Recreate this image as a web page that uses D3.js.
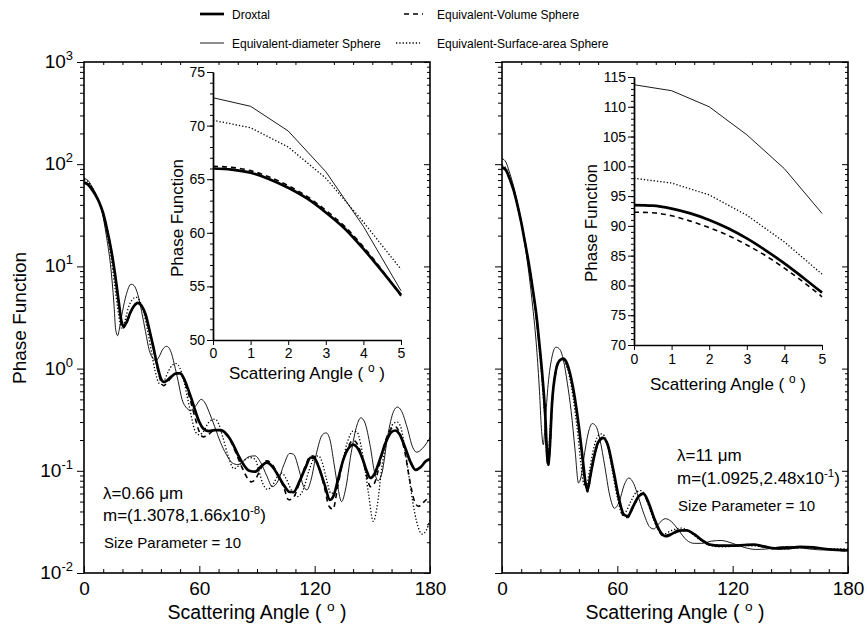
<!DOCTYPE html>
<html>
<head>
<meta charset="utf-8">
<script src="https://cdn.jsdelivr.net/npm/d3@7"></script>
<style>
body { margin: 0; background: #fff; }
text { font-family: "Liberation Sans", Arial, Helvetica, sans-serif; fill: #000; }
</style>
</head>
<body>
<svg id="chart" width="867" height="628"></svg>
<script>
// ---- data: [scattering angle (deg), phase function] ----

// left panel, lambda = 0.66 um
var droxtalL = [[0,66],[2,63.5],[4,57],[6,50],[8,42],[10,33],[12,23],[14,15],[16,8.8],[18,4.6],[19.5,2.9],[20.5,2.6],[22,2.8],[24,3.5],[26,4.1],[28,4.4],[30,4.1],[32,3.4],[34,2.4],[36,1.65],[38,1.1],[40,0.8],[41.5,0.74],[43,0.76],[45,0.82],[48,0.9],[50,0.9],[52,0.8],[54,0.64],[56,0.5],[58,0.38],[60,0.3],[62,0.26],[65,0.245],[68,0.25],[71,0.25],[74,0.23],[77,0.19],[80,0.145],[83,0.115],[86,0.1],[89,0.098],[92,0.11],[95,0.12],[98,0.11],[101,0.09],[104,0.072],[107,0.062],[109,0.062],[112,0.078],[115,0.105],[118,0.135],[120,0.132],[122,0.11],[125,0.075],[128,0.052],[130,0.058],[132,0.08],[135,0.13],[138,0.17],[140,0.18],[142,0.17],[145,0.13],[147,0.1],[149,0.085],[151,0.092],[154,0.13],[157,0.19],[160,0.24],[162,0.248],[164,0.23],[167,0.17],[170,0.12],[172.5,0.102],[175,0.108],[178,0.125],[180,0.13]];
var eqVolL = [[0,66.2],[2,63.7],[4,57.2],[6,50],[8,42],[10,33],[12,23],[14,15],[16,8.7],[18,4.5],[19.5,2.8],[20.5,2.5],[22,2.75],[24,3.5],[26,4.1],[28,4.4],[30,4.1],[32,3.4],[34,2.4],[36,1.6],[38,1.05],[40,0.75],[41.5,0.68],[43,0.72],[45,0.8],[48,0.9],[50,0.9],[52,0.78],[54,0.6],[56,0.44],[58,0.32],[60,0.24],[62,0.215],[64,0.22],[67,0.245],[70,0.25],[73,0.235],[76,0.2],[79,0.15],[82,0.11],[85,0.085],[87,0.078],[89,0.082],[92,0.105],[95,0.125],[98,0.115],[101,0.09],[104,0.068],[106.5,0.052],[109,0.055],[112,0.075],[115,0.11],[118,0.14],[120,0.138],[122,0.11],[125,0.07],[127.5,0.045],[129.5,0.042],[132,0.07],[135,0.13],[138,0.18],[140,0.2],[142,0.185],[145,0.13],[147,0.09],[149,0.07],[151,0.075],[154,0.12],[157,0.2],[160,0.26],[162,0.27],[164,0.24],[167,0.15],[169.5,0.08],[172,0.05],[174,0.045],[177,0.05],[180,0.057]];
var eqDiaL = [[0,72.6],[2,69.5],[4,61],[6,52],[8,42],[10,30],[12,18],[14,9.5],[15.5,4.5],[16.5,2.4],[17.5,2.1],[18.5,2.5],[20,3.6],[22,5.3],[24.5,6.7],[26,6.5],[28,5.3],[30,3.6],[32,2.3],[34,1.5],[36,1.25],[37.5,1.2],[39,1.3],[41,1.55],[43,1.65],[45,1.5],[47,1.1],[49,0.75],[51,0.5],[53,0.42],[55.5,0.39],[58,0.43],[61,0.5],[63,0.46],[65,0.38],[68,0.27],[71,0.19],[74,0.145],[77,0.12],[80,0.115],[83,0.125],[86,0.138],[89,0.14],[92,0.12],[95,0.09],[98,0.07],[101,0.08],[104,0.115],[107,0.148],[109,0.145],[112,0.1],[114,0.072],[116,0.065],[118,0.08],[121,0.15],[124,0.225],[126,0.235],[128,0.2],[130,0.12],[132,0.07],[134,0.05],[136,0.065],[139,0.15],[142,0.28],[144,0.33],[146,0.3],[149,0.17],[151,0.1],[153,0.08],[155,0.095],[158,0.22],[161,0.38],[163,0.42],[165,0.39],[168,0.27],[171,0.17],[173,0.152],[176,0.165],[180,0.21]];
var eqSurfL = [[0,70.5],[2,68],[4,60],[6,51],[8,42],[10,32],[12,21],[14,12.5],[16,6.5],[18,3.4],[19.5,2.5],[21,2.8],[23,3.9],[25,4.7],[27,5.0],[29,4.6],[31,3.6],[33,2.4],[35,1.5],[37,0.95],[39,0.72],[40.5,0.7],[42,0.78],[44,0.95],[46,1.08],[48,1.12],[50,1.0],[52,0.75],[54,0.5],[56,0.33],[58,0.24],[60,0.225],[62,0.24],[65,0.3],[68,0.32],[70,0.29],[72,0.22],[75,0.14],[78,0.105],[80,0.11],[83,0.125],[86,0.135],[89,0.13],[91,0.1],[93,0.075],[95.5,0.066],[98,0.072],[101,0.09],[103,0.095],[105,0.085],[108,0.064],[111,0.056],[114,0.065],[117,0.1],[120,0.135],[122,0.14],[124,0.12],[126,0.085],[128.5,0.06],[131,0.065],[134,0.11],[137,0.19],[140,0.245],[142,0.24],[144,0.18],[146,0.11],[148,0.06],[150.5,0.032],[152.5,0.045],[155,0.11],[158,0.21],[161,0.29],[163,0.3],[165,0.26],[167,0.16],[169,0.09],[171,0.05],[173,0.032],[176,0.024],[178,0.026],[180,0.033]];

// right panel, lambda = 11 um
var droxtalR = [[0,93.5],[2,88],[4,72],[6,56],[8,40],[10,27],[12,17],[14,10.5],[16,6],[18,3.2],[19.5,1.7],[21,0.85],[22.5,0.35],[23.5,0.14],[24,0.115],[24.8,0.16],[26,0.45],[28,0.95],[30,1.2],[32,1.25],[34,1.1],[36,0.8],[38,0.5],[40,0.27],[42,0.13],[43.5,0.075],[44.5,0.065],[46,0.09],[48,0.14],[50,0.19],[52.5,0.21],[55,0.18],[58,0.1],[61,0.052],[63.5,0.037],[65.5,0.036],[68,0.044],[71,0.056],[73.5,0.06],[76,0.05],[79,0.035],[82,0.026],[85,0.023],[88,0.024],[92,0.026],[96,0.0262],[100,0.024],[104,0.021],[108,0.019],[113,0.0185],[120,0.0185],[126,0.0188],[131,0.019],[136,0.0182],[142,0.0174],[148,0.0175],[155,0.018],[162,0.0178],[170,0.017],[180,0.0166]];
var eqVolR = [[0,92.3],[2,87],[4,71.5],[6,55.5],[8,40],[10,27],[12,17],[14,10.5],[16,6],[18,3.1],[19.5,1.65],[21,0.82],[22.5,0.33],[23.5,0.13],[24,0.11],[24.8,0.15],[26,0.43],[28,0.93],[30,1.18],[32,1.23],[34,1.08],[36,0.78],[38,0.49],[40,0.26],[42,0.12],[43.5,0.07],[44.5,0.062],[46,0.088],[48,0.138],[50,0.185],[52.5,0.205],[55,0.178],[58,0.098],[61,0.05],[63.5,0.035],[65.5,0.035],[68,0.043],[71,0.055],[73.5,0.059],[76,0.049],[79,0.034],[82,0.025],[85,0.0225],[88,0.0235],[92,0.0255],[96,0.026],[100,0.0238],[104,0.0208],[108,0.0188],[113,0.0183],[120,0.0184],[126,0.0187],[131,0.0189],[136,0.0181],[142,0.0173],[148,0.0174],[155,0.0178],[162,0.0177],[170,0.0169],[180,0.0165]];
var eqDiaR = [[0,113.7],[2,105],[4,82],[6,61],[8,42],[10,27],[12,16],[14,8.5],[16,4],[18,1.6],[19.5,0.6],[20.5,0.26],[21.5,0.18],[22.5,0.3],[24,0.7],[26,1.3],[28,1.62],[30,1.55],[32,1.2],[34,0.72],[36,0.38],[38,0.16],[39.8,0.076],[41,0.085],[43,0.15],[45,0.24],[47,0.29],[49,0.27],[51,0.2],[53.5,0.11],[56,0.058],[58.5,0.043],[61,0.05],[63.5,0.072],[66,0.085],[68.5,0.075],[71,0.055],[74,0.037],[77,0.028],[79,0.027],[82,0.031],[85,0.034],[88,0.032],[92,0.026],[96,0.021],[100,0.0195],[104,0.0195],[109,0.0205],[114,0.0208],[120,0.0195],[126,0.0178],[132,0.017],[138,0.0172],[144,0.018],[150,0.0182],[156,0.0176],[162,0.017],[168,0.0168],[174,0.017],[180,0.0168]];
var eqSurfR = [[0,98],[2,91],[4,74],[6,57],[8,40],[10,26.5],[12,16.5],[14,10],[16,5.6],[18,2.9],[19.5,1.5],[21,0.7],[22.5,0.28],[23.3,0.15],[24,0.14],[25,0.25],[27,0.75],[29,1.15],[31,1.25],[33,1.12],[35,0.85],[37,0.52],[39,0.27],[41,0.12],[42.5,0.075],[43.8,0.07],[45.5,0.1],[47.5,0.16],[50,0.22],[52,0.23],[54.5,0.19],[57,0.11],[60,0.055],[62.5,0.038],[64.5,0.04],[67,0.05],[70,0.062],[72.5,0.064],[75,0.053],[78,0.037],[81,0.027],[84,0.024],[88,0.026],[93,0.0275],[98,0.025],[103,0.021],[108,0.0188],[114,0.018],[120,0.0182],[127,0.0185],[133,0.0183],[140,0.0175],[147,0.0172],[155,0.0176],[163,0.0175],[172,0.0172],[180,0.0172]];

// insets, 0-5 deg
var insetAngles = [0, 1, 2, 3, 4, 5];
var insetAnglesFine = [0, 0.5, 1, 1.5, 2, 2.5, 3, 3.5, 4, 4.5, 5];
var droxtalInL = [66.0, 65.9, 65.6, 65.0, 64.2, 63.2, 61.9, 60.4, 58.5, 56.4, 54.2];
var eqVolInL   = [66.2, 66.1, 65.8, 65.2, 64.4, 63.4, 62.1, 60.6, 58.7, 56.5, 54.1];
var eqDiaInL   = [72.6, 71.8, 69.5, 65.7, 60.6, 54.6];
var eqSurfInL  = [70.5, 69.8, 68.0, 65.1, 61.0, 56.6];
var droxtalInR = [93.5, 93.4, 92.9, 92.1, 91.0, 89.6, 87.9, 85.9, 83.7, 81.3, 78.8];
var eqVolInR   = [92.3, 92.2, 91.7, 90.8, 89.7, 88.4, 86.8, 85.0, 82.9, 80.6, 78.1];
var eqDiaInR   = [113.7, 112.7, 110.0, 105.3, 99.6, 92.1];
var eqSurfInR  = [98.0, 97.2, 95.2, 91.8, 87.3, 81.9];

var seriesNames = ["Droxtal", "Equivalent-Volume Sphere", "Equivalent-diameter Sphere", "Equivalent-Surface-area Sphere"];
var mainTicksX = [0, 60, 120, 180];
var decades = [-2, -1, 0, 1, 2, 3];

// line styles
var styles = {
  dia:    {w: 0.9, dash: null},
  surf:   {w: 1.3, dash: "1.3,2"},
  vol:    {w: 1.6, dash: "5,4"},
  drox:   {w: 2.7, dash: null}
};

var svg = d3.select("#chart");

function drawLine(g, data, xs, ys, st, curve) {
  g.append("path")
    .datum(data)
    .attr("fill", "none")
    .attr("stroke", "#000")
    .attr("stroke-width", st.w)
    .attr("stroke-dasharray", st.dash)
    .attr("stroke-linejoin", "round")
    .attr("d", d3.line()
      .x(function(d) { return xs(d[0]); })
      .y(function(d) { return ys(d[1]); })
      .curve(curve));
}

function scatTitle(g, cx, cy, size) {
  var t = g.append("text")
    .attr("x", cx).attr("y", cy)
    .attr("text-anchor", "middle")
    .attr("font-size", size);
  t.append("tspan").text("Scattering Angle ( ");
  t.append("tspan").attr("font-size", size * 0.7).attr("dy", -size * 0.4).text("o");
  t.append("tspan").attr("dy", size * 0.4).text(" )");
}

//Main panel with log y axis

function mainPanel(x0, x1, showLabels, sets) {
  var top = 62, bottom = 573;
  var x = d3.scaleLinear().domain([0, 180]).range([x0, x1]);
  var y = d3.scaleLog().domain([0.01, 1000]).range([bottom, top]);
  var g = svg.append("g");

  var majors = decades.map(function(d) { return Math.pow(10, d); });
  var minors = y.ticks().filter(function(t) {
    var l = Math.log10(t);
    return Math.abs(l - Math.round(l)) > 1e-6;
  });

  // left ticks outward
  g.append("g").attr("transform", "translate(" + x0 + ",0)")
    .call(d3.axisLeft(y).tickValues(minors).tickSize(4).tickSizeOuter(0).tickFormat(""));
  g.append("g").attr("transform", "translate(" + x0 + ",0)")
    .call(d3.axisLeft(y).tickValues(majors).tickSize(7).tickSizeOuter(0).tickFormat(""));
  // right ticks inward
  g.append("g").attr("transform", "translate(" + x1 + ",0)")
    .call(d3.axisLeft(y).tickValues(minors).tickSize(3).tickSizeOuter(0).tickFormat(""));
  g.append("g").attr("transform", "translate(" + x1 + ",0)")
    .call(d3.axisLeft(y).tickValues(majors).tickSize(6).tickSizeOuter(0).tickFormat(""));

  // bottom ticks
  var xMinor = d3.range(0, 181, 10).filter(function(v) { return v % 60 !== 0; });
  g.append("g").attr("transform", "translate(0," + bottom + ")")
    .call(d3.axisBottom(x).tickValues(xMinor).tickSize(-4).tickSizeOuter(0).tickFormat(""));
  g.append("g").attr("transform", "translate(0," + bottom + ")")
    .call(d3.axisBottom(x).tickValues(mainTicksX).tickSize(-7).tickSizeOuter(0).tickPadding(9))
    .selectAll("text").attr("font-size", 19).attr("font-family", null);
  g.append("g").attr("transform", "translate(0," + top + ")")
    .call(d3.axisTop(x).tickValues(xMinor).tickSize(-3).tickSizeOuter(0).tickFormat(""));

  g.selectAll(".domain").remove();
  g.selectAll(".tick line").attr("stroke", "#000").attr("stroke-width", 1);

  g.append("rect")
    .attr("x", x0).attr("y", top)
    .attr("width", x1 - x0).attr("height", bottom - top)
    .attr("fill", "none").attr("stroke", "#000").attr("stroke-width", 1.6);

  if (showLabels) {
    decades.forEach(function(d) {
      var t = g.append("text")
        .attr("x", x0 - 11).attr("y", y(Math.pow(10, d)) + 6)
        .attr("text-anchor", "end").attr("font-size", 19);
      t.append("tspan").text("10");
      t.append("tspan").attr("font-size", 13).attr("dy", -8).text(String(d));
    });
    g.append("text")
      .attr("transform", "translate(26,318) rotate(-90)")
      .attr("text-anchor", "middle").attr("font-size", 19)
      .text("Phase Function");
  }

  scatTitle(g, (x0 + x1) / 2, 619, 19.5);

  var c = d3.curveMonotoneX;
  drawLine(g, sets.dia, x, y, styles.dia, c);
  drawLine(g, sets.surf, x, y, styles.surf, c);
  drawLine(g, sets.vol, x, y, styles.vol, c);
  drawLine(g, sets.drox, x, y, styles.drox, c);
}

//Inset panel, linear axes 0-5 deg

function inset(x0, x1, yTop, yBot, yMin, yMax, tickLabelY, titleY, labelX, sets) {
  var x = d3.scaleLinear().domain([0, 5]).range([x0, x1]);
  var y = d3.scaleLinear().domain([yMin, yMax]).range([yBot, yTop]);
  var g = svg.append("g");

  g.append("g").attr("transform", "translate(" + x0 + ",0)")
    .call(d3.axisLeft(y).tickValues(d3.range(yMin, yMax + 0.1, 1)).tickSize(3).tickSizeOuter(0).tickFormat(""));
  g.append("g").attr("transform", "translate(" + x0 + ",0)")
    .call(d3.axisLeft(y).tickValues(d3.range(yMin, yMax + 0.1, 5)).tickSize(6).tickSizeOuter(0).tickPadding(2))
    .selectAll("text").attr("font-size", 14).attr("font-family", null);
  g.append("g").attr("transform", "translate(0," + yBot + ")")
    .call(d3.axisBottom(x).tickValues(insetAngles).tickFormat(d3.format("d")).tickSize(5).tickSizeOuter(0).tickPadding(tickLabelY))
    .selectAll("text").attr("font-size", 14).attr("font-family", null);

  g.selectAll(".domain").attr("stroke", "#000").attr("stroke-width", 1.4);
  g.selectAll(".tick line").attr("stroke", "#000");

  g.append("text")
    .attr("transform", "translate(" + labelX + "," + ((yTop + yBot) / 2 + 12) + ") rotate(-90)")
    .attr("text-anchor", "middle").attr("font-size", 17)
    .text("Phase Function");
  scatTitle(g, (x0 + x1) / 2, titleY, 17);

  function pairs(angles, vals) { return angles.map(function(a, i) { return [a, vals[i]]; }); }
  drawLine(g, pairs(insetAngles, sets.dia), x, y, styles.dia, d3.curveLinear);
  drawLine(g, pairs(insetAngles, sets.surf), x, y, styles.surf, d3.curveLinear);
  drawLine(g, pairs(insetAnglesFine, sets.vol), x, y, styles.vol, d3.curveMonotoneX);
  drawLine(g, pairs(insetAnglesFine, sets.drox), x, y, styles.drox, d3.curveMonotoneX);
}

mainPanel(84, 430, true, {drox: droxtalL, vol: eqVolL, dia: eqDiaL, surf: eqSurfL});
mainPanel(502, 848, false, {drox: droxtalR, vol: eqVolR, dia: eqDiaR, surf: eqSurfR});

inset(213, 401, 72, 340, 50, 75, 3, 379, 183, {drox: droxtalInL, vol: eqVolInL, dia: eqDiaInL, surf: eqSurfInL});
inset(634, 822, 77, 345, 70, 115, 4, 390, 597, {drox: droxtalInR, vol: eqVolInR, dia: eqDiaInR, surf: eqSurfInR});

//Annotations

function annot(x, y1, y2, y3, lam, mRe, mIm, mExp) {
  svg.append("text").attr("x", x).attr("y", y1).attr("font-size", 17).text("\u03bb=" + lam + " \u03bcm");
  var t = svg.append("text").attr("x", x).attr("y", y2).attr("font-size", 17);
  t.append("tspan").text("m=(" + mRe + "," + mIm + "x10");
  t.append("tspan").attr("font-size", 11.5).attr("dy", -7).text(mExp);
  t.append("tspan").attr("dy", 7).text(")");
  svg.append("text").attr("x", x + 1).attr("y", y3).attr("font-size", 15).text("Size Parameter = 10");
}
annot(103, 499, 521, 548, "0.66", "1.3078", "1.66", "-8");
annot(677, 461, 484, 511, "11", "1.0925", "2.48", "-1");

//Legend

var legend = [
  {name: seriesNames[0], st: styles.drox, lx: 200, tx: 232, y: 14},
  {name: seriesNames[1], st: styles.vol, lx: 404, tx: 437, y: 14},
  {name: seriesNames[2], st: styles.dia, lx: 200, tx: 232, y: 43},
  {name: seriesNames[3], st: styles.surf, lx: 396, tx: 437, y: 43}
];
legend.forEach(function(d) {
  svg.append("line")
    .attr("x1", d.lx).attr("x2", d.lx + (d.st === styles.vol ? 19 : 24))
    .attr("y1", d.y).attr("y2", d.y)
    .attr("stroke", "#000").attr("stroke-width", d.st.w)
    .attr("stroke-dasharray", d.st.dash);
  svg.append("text").attr("x", d.tx).attr("y", d.y + 4.5).attr("font-size", 12).text(d.name);
});
</script>
</body>
</html>
